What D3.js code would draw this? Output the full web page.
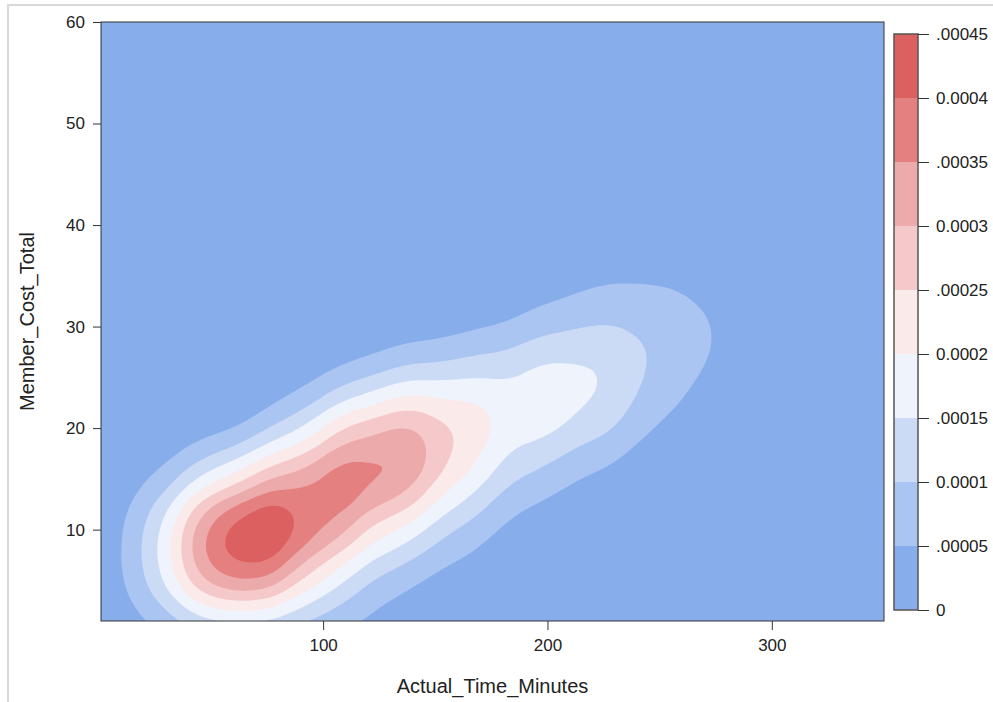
<!DOCTYPE html>
<html>
<head>
<meta charset="utf-8">
<script src="https://cdn.jsdelivr.net/npm/d3@7"></script>
<style>
  body { margin: 0; background: #fff; }
  text { font-family: "Liberation Sans", Arial, sans-serif; fill: #222; }
</style>
</head>
<body>
<script>
// contour levels of the density and their colours
var levels = [0, 0.00005, 0.0001, 0.00015, 0.0002, 0.00025, 0.0003, 0.00035, 0.0004, 0.00045];
var levelLabels = ["0", ".00005", "0.0001", ".00015", "0.0002", ".00025", "0.0003", ".00035", "0.0004", ".00045"];
var levelColors = ["#87adeb", "#aac5f1", "#cbdbf6", "#eef3fc", "#fbeaea", "#f5c9ca", "#edaaaa", "#e58080", "#dd6060"];

// sample locations (minutes, cost) with counts
var anchorTime  = [59.5, 93, 123, 152.1, 183.3, 212.3, 241.2, 273.3, 103.1, 147.6, 187.8, 33.5, 232.3];
var anchorCost  = [8.2, 12.7, 16.8, 19.8, 22.8, 23.8, 26.7, 29.6, 5.5, 11.0, 16.9, 6.5, 32.6];
var anchorCount = [38, 21, 23, 15, 6, 12, 4, 3.5, 6, 5, 3, 2.5, 2.5];
var bandwidth = 50;

var xTicks = [100, 200, 300];
var yTicks = [10, 20, 30, 40, 50, 60];

var W = 993, H = 702;
var plot = {left: 101, top: 22, right: 884, bottom: 621};
var pw = plot.right - plot.left, ph = plot.bottom - plot.top;

var svg = d3.select("body").append("svg")
    .attr("width", W)
    .attr("height", H);

// light frame around the output
svg.append("path")
    .attr("d", "M8," + H + "V5H" + W)
    .attr("fill", "none")
    .attr("stroke", "#d9d9d9")
    .attr("stroke-width", 2);

var x = d3.scaleLinear().domain([1, 350]).range([0, pw]);
var y = d3.scaleLinear().domain([1, 60]).range([ph, 0]);

var g = svg.append("g")
    .attr("transform", "translate(" + plot.left + "," + plot.top + ")");

g.append("clipPath").attr("id", "clip")
    .append("rect").attr("width", pw).attr("height", ph);

var pts = anchorTime.map(function(t, i) {
    return {t: t, c: anchorCost[i], n: anchorCount[i]};
});
var total = d3.sum(anchorCount);
// pixels per data unit, to turn density per data unit into per square pixel
var kx = x(2) - x(1), ky = y(1) - y(2);

var density = d3.contourDensity()
    .x(function(d) { return x(d.t); })
    .y(function(d) { return y(d.c); })
    .weight(function(d) { return d.n; })
    .size([pw, ph])
    .bandwidth(bandwidth)
    .cellSize(2)
    .thresholds(levels.slice(1, 9).map(function(l) { return l * total / (kx * ky); }));

var contours = density(pts);

var area = g.append("g").attr("clip-path", "url(#clip)");
area.append("rect")
    .attr("width", pw)
    .attr("height", ph)
    .attr("fill", levelColors[0]);

area.selectAll("path.band")
    .data(contours)
    .enter().append("path")
    .attr("class", "band")
    .attr("d", d3.geoPath())
    .attr("fill", function(d, i) { return levelColors[i + 1]; });

g.append("rect")
    .attr("width", pw)
    .attr("height", ph)
    .attr("fill", "none")
    .attr("stroke", "#333")
    .attr("stroke-width", 1);

// axes
var xAxis = g.append("g")
    .attr("transform", "translate(0," + ph + ")")
    .call(d3.axisBottom(x).tickValues(xTicks).tickSize(9).tickPadding(9));
var yAxis = g.append("g")
    .call(d3.axisLeft(y).tickValues(yTicks).tickSize(8).tickPadding(8));
[xAxis, yAxis].forEach(function(a) {
    a.select(".domain").remove();
    a.selectAll("line").attr("stroke", "#333");
    a.selectAll("text").style("font-size", "17px").attr("fill", "#222");
});

svg.append("text")
    .attr("x", plot.left + pw / 2)
    .attr("y", 693)
    .attr("text-anchor", "middle")
    .style("font-size", "20px")
    .text("Actual_Time_Minutes");

svg.append("text")
    .attr("transform", "translate(34," + (plot.top + ph / 2) + ") rotate(-90)")
    .attr("text-anchor", "middle")
    .style("font-size", "20px")
    .text("Member_Cost_Total");

// colour legend
var leg = {left: 894, top: 34, width: 24, bottom: 610};
var ly = d3.scaleLinear().domain([0, 0.00045]).range([leg.bottom, leg.top]);
var lg = svg.append("g");
lg.selectAll("rect.step")
    .data(levelColors)
    .enter().append("rect")
    .attr("class", "step")
    .attr("x", leg.left)
    .attr("width", leg.width)
    .attr("y", function(d, i) { return ly(levels[i + 1]); })
    .attr("height", function(d, i) { return ly(levels[i]) - ly(levels[i + 1]); })
    .attr("fill", function(d) { return d; });
lg.append("rect")
    .attr("x", leg.left)
    .attr("y", leg.top)
    .attr("width", leg.width)
    .attr("height", leg.bottom - leg.top)
    .attr("fill", "none")
    .attr("stroke", "#555")
    .attr("stroke-width", 1.5);

var legAxis = svg.append("g")
    .attr("transform", "translate(" + (leg.left + leg.width) + ",0)")
    .call(d3.axisRight(ly).tickValues(levels).tickSize(11).tickPadding(7)
        .tickFormat(function(d, i) { return levelLabels[i]; }));
legAxis.select(".domain").remove();
legAxis.selectAll("line").attr("stroke", "#333");
legAxis.selectAll("text").style("font-size", "17px").attr("fill", "#222");
</script>
</body>
</html>
